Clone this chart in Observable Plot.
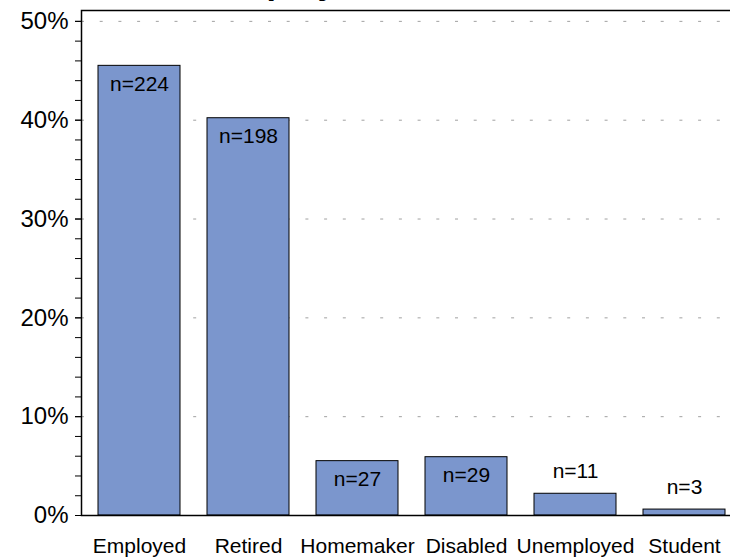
<!DOCTYPE html>
<html><head><meta charset="utf-8">
<script src="https://cdn.jsdelivr.net/npm/d3@7"></script>
<script src="https://cdn.jsdelivr.net/npm/@observablehq/plot@0.6"></script>
<style>
html,body{margin:0;padding:0;background:#fff;overflow:hidden;}
#chart{width:730px;height:558px;overflow:hidden;}
#chart svg{max-width:none;display:block;}
</style></head><body><div id="chart"></div>
<script>
const title = "Employment Status";
const categories = ["Employed", "Retired", "Homemaker", "Disabled", "Unemployed", "Student"];
const counts = [224, 198, 27, 29, 11, 3];
const percents = [45.5, 40.2, 5.5, 5.9, 2.2, 0.6];
const majorTicks = [0, 10, 20, 30, 40, 50];
const tickLabels = ["0%", "10%", "20%", "30%", "40%", "50%"];
const minorTicks = d3.range(0, 51, 2);

const data = categories.map((c, i) => ({category: c, n: counts[i], pct: percents[i], label: "n=" + counts[i]}));
const inside = data.filter(d => d.pct >= 4);
const above = data.filter(d => d.pct < 4);
const font = "'Liberation Sans', Arial, Helvetica, sans-serif";

const chart = Plot.plot({
  width: 745, height: 558,
  marginLeft: 81, marginRight: 4, marginTop: 10, marginBottom: 43,
  style: {fontFamily: font, fontSize: "21px", color: "#000", background: "#fff"},
  x: {domain: categories, paddingInner: 0.25, paddingOuter: 0.137, label: null},
  y: {domain: [0, 51.1], label: null},
  marks: [
    Plot.ruleY(majorTicks.slice(1), {stroke: "#a0a0a0", strokeDasharray: "3,15.7", strokeWidth: 1}),
    Plot.barY(data, {x: "category", y: "pct", fill: "#7b96cd", stroke: "#000", strokeWidth: 1}),
    Plot.text(inside, {x: "category", y: "pct", text: "label", dy: 18, fill: "#000"}),
    Plot.text(above, {x: "category", y: "pct", text: "label", dy: -22, fill: "#000"}),
    Plot.axisY({ticks: minorTicks, tickFormat: () => "", tickSize: 6, label: null}),
    Plot.axisY({ticks: majorTicks, tickFormat: d => tickLabels[majorTicks.indexOf(d)], tickSize: 6, tickPadding: 7, fontSize: 24, label: null}),
    Plot.axisX({tickSize: 0, tickPadding: 23, label: null}),
    Plot.frame({stroke: "#000", strokeWidth: 1.5}),
    Plot.text([title], {frameAnchor: "top-left", textAnchor: "start", lineAnchor: "bottom", dx: 132, dy: -17, fontSize: 34, fontWeight: "bold", fill: "#000"})
  ]
});
document.getElementById("chart").appendChild(chart);
</script>
</body></html>
